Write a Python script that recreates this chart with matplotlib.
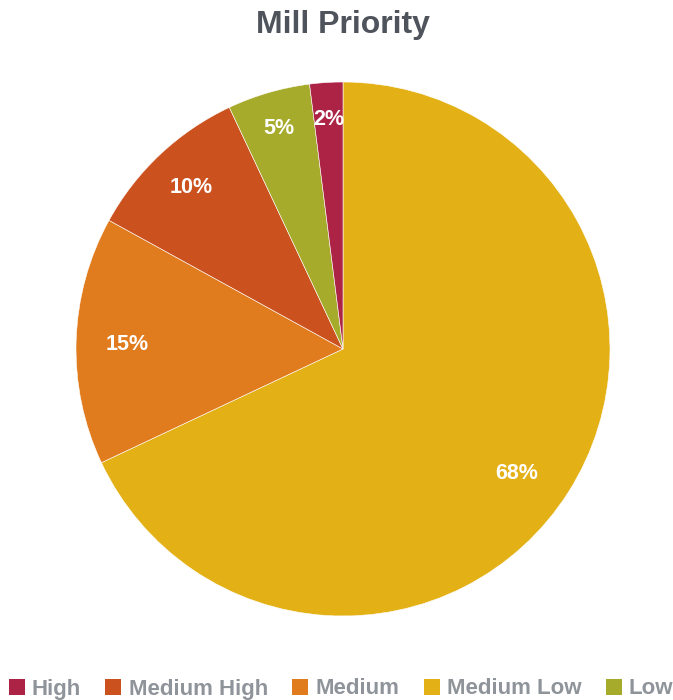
import numpy as np
import matplotlib
matplotlib.use("Agg")
import matplotlib.pyplot as plt
from matplotlib.patches import Patch

# Data (drawing order: clockwise from top)
categories = ["Medium Low", "Medium", "Medium High", "Low", "High"]
values = [68, 15, 10, 5, 2]
labels = ["68%", "15%", "10%", "5%", "2%"]
legend_order = ["High", "Medium High", "Medium", "Medium Low", "Low"]

colors = {
    "High": "#AD2346",
    "Medium High": "#CB521F",
    "Medium": "#E07C1E",
    "Medium Low": "#E3B116",
    "Low": "#A7AB2C",
}
label_radius = [0.80, 0.81, 0.83, 0.86, 0.86]
label_angle_shift = [-3.2, 0.5, 0, 0, 0]

plt.rcParams['font.family'] = ['Liberation Sans', 'DejaVu Sans']

fig = plt.figure(figsize=(6.73, 7.0), dpi=100)
ax = fig.add_axes([76/673, 84/700, 534/673, 534/700])

wedges, _ = ax.pie(values, colors=[colors[c] for c in categories],
                   startangle=90, counterclock=False,
                   wedgeprops=dict(edgecolor="white", linewidth=0.4))
ax.set_xlim(-1, 1)
ax.set_ylim(-1, 1)
ax.set_aspect('equal')

for w, lab, r, s in zip(wedges, labels, label_radius, label_angle_shift):
    ang = np.deg2rad((w.theta1 + w.theta2) / 2 + s)
    ax.text(r * np.cos(ang), r * np.sin(ang), lab, ha="center", va="center",
            color="white", fontsize=15.5, fontweight="bold")

fig.text(343/673, 1 - 25/700, "Mill Priority", ha="center", va="center",
         fontsize=23, fontweight="bold", color="#4F545C")

handles = [Patch(facecolor=colors[c], edgecolor="none") for c in legend_order]
leg = fig.legend(handles, legend_order, loc="center", bbox_to_anchor=(341/673, 1 - 689/700),
                 ncol=5, frameon=False, handlelength=0.72, handleheight=0.72,
                 handletextpad=0.32, columnspacing=1.1, borderaxespad=0,
                 borderpad=0, prop=dict(size=16, weight="bold"))
for t in leg.get_texts():
    t.set_color("#8F949A")

fig.savefig("out.png", dpi=100, facecolor="white")
